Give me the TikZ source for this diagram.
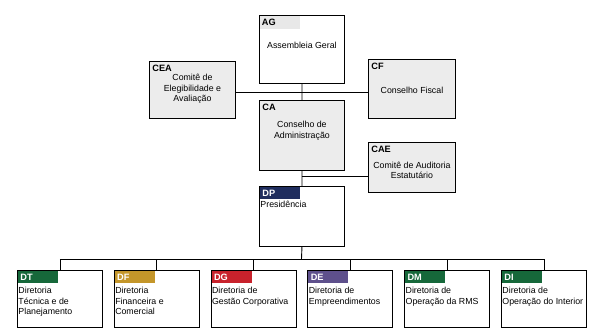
\documentclass[tikz,border=0pt]{standalone}
\usepackage{fontspec}
\setmainfont{Liberation Sans}
\usepackage{xcolor}
\usetikzlibrary{positioning}

\definecolor{boxgray}{RGB}{236,236,236}
\definecolor{tabgray}{RGB}{232,232,232}
\definecolor{navy}{RGB}{31,45,94}
\definecolor{dgreen}{RGB}{22,104,58}
\definecolor{gold}{RGB}{196,150,42}
\definecolor{dred}{RGB}{200,34,44}
\definecolor{purp}{RGB}{94,80,140}

\begin{document}
\begin{tikzpicture}[x=1pt,y=-1pt,line width=0.9pt]
        \tikzset{box/.style={draw, rectangle, anchor=north west, inner sep=0pt, minimum width=85pt},
        gbox/.style={box, fill=boxgray},
        tab/.style={anchor=north west, inner sep=0pt, minimum width=40pt, minimum height=12.5pt,
                text width=37pt, align=left, font=\bfseries\fontsize{9.2}{9.5}\selectfont},
        txt/.style={align=center, inner sep=0pt, font=\fontsize{8.8}{10.7}\selectfont},
        ltxt/.style={anchor=north west, align=left, inner sep=0pt, font=\fontsize{8.8}{10.7}\selectfont},
        }
        \useasboundingbox (0,0) rectangle (592,328);

%% upper boxes
        \node [box, minimum height=68pt] (AG) at (259,15) {};
        \node [gbox, minimum width=86pt, minimum height=57pt] (CEA) at (149,61) {};
        \node [gbox, minimum width=87pt, minimum height=59pt] (CF) at (368,59) {};
        \node [gbox, minimum height=70pt] (CA) at (259,100) {};
        \node [gbox, minimum width=87pt, minimum height=50pt] (CAE) at (368,142) {};
        \node [box, minimum height=60pt] (DP) at (259,186) {};

%% headers
        \node [tab, fill=tabgray, minimum height=13.5pt, text width=38pt] at ([xshift=0.45pt,yshift=-0.45pt]AG.north west) {\hspace*{1pt}AG};
        \node [tab] at ([xshift=1.5pt,yshift=-1pt]CEA.north west) {CEA};
        \node [tab] at ([xshift=1.5pt,yshift=-1pt]CF.north west) {CF};
        \node [tab] at ([xshift=1.5pt,yshift=-1pt]CA.north west) {CA};
        \node [tab] at ([xshift=1.5pt,yshift=-1pt]CAE.north west) {CAE};
        \node [tab, fill=navy, text=white] at ([xshift=0.45pt,yshift=-0.45pt]DP.north west) {\hspace*{1pt}DP};

%% texts
        \node [txt] at ([yshift=-30pt]AG.north) {Assembleia Geral};
        \node [txt] at ([yshift=1pt]CEA.center) {Comitê de\\Elegibilidade e\\Avaliação};
        \node [txt] at ([yshift=-1.5pt]CF.center) {Conselho Fiscal};
        \node [txt] at ([yshift=5pt]CA.center) {Conselho de\\Administração};
        \node [txt] at ([yshift=-3pt]CAE.center) {Comitê de Auditoria\\Estatutário};
        \node [ltxt] at ([xshift=1pt,yshift=-15pt]DP.north west) {Presidência};

%% directorates
        \foreach \n/\c/\t [count=\i from 0] in {DT/dgreen/{Diretoria\\Técnica e de\\Planejamento},
                DF/gold/{Diretoria\\Financeira e\\Comercial},
                DG/dred/{Diretoria de\\Gestão Corporativa},
                DE/purp/{Diretoria de\\Empreendimentos},
                DM/dgreen/{Diretoria de\\Operação da RMS},
                DI/dgreen/{Diretoria de\\Operação do Interior}}{
            \node [box, minimum height=57.5pt] (\n) at ({17+\i*96.8},270) {};
            \node [tab, fill=\c, text=white] at ([xshift=0.45pt,yshift=-0.45pt]\n.north west) {\hspace*{1pt}\n};
            \node [ltxt] at ([xshift=1pt,yshift=-16.5pt]\n.north west) {\t};
        }

%% connectors
        \coordinate (j1) at (301.5,92);
        \coordinate (j2) at (301.5,176);
        \coordinate (bus) at (301.5,259);
        \draw (AG.south) -- (CA.north)
              (CA.south) -- (DP.north)
              (DP.south) -- (bus);
        \draw (CEA.east |- j1) -- (CF.west |- j1);
        \draw (j2) -- (CAE.west |- j2);
        \draw (DT.north |- bus) -- (DI.north |- bus);
        \foreach \n in {DT,DF,DG,DE,DM,DI}
            \draw (\n.north) -- (\n.north |- bus);
    \end{tikzpicture}
\end{document}
